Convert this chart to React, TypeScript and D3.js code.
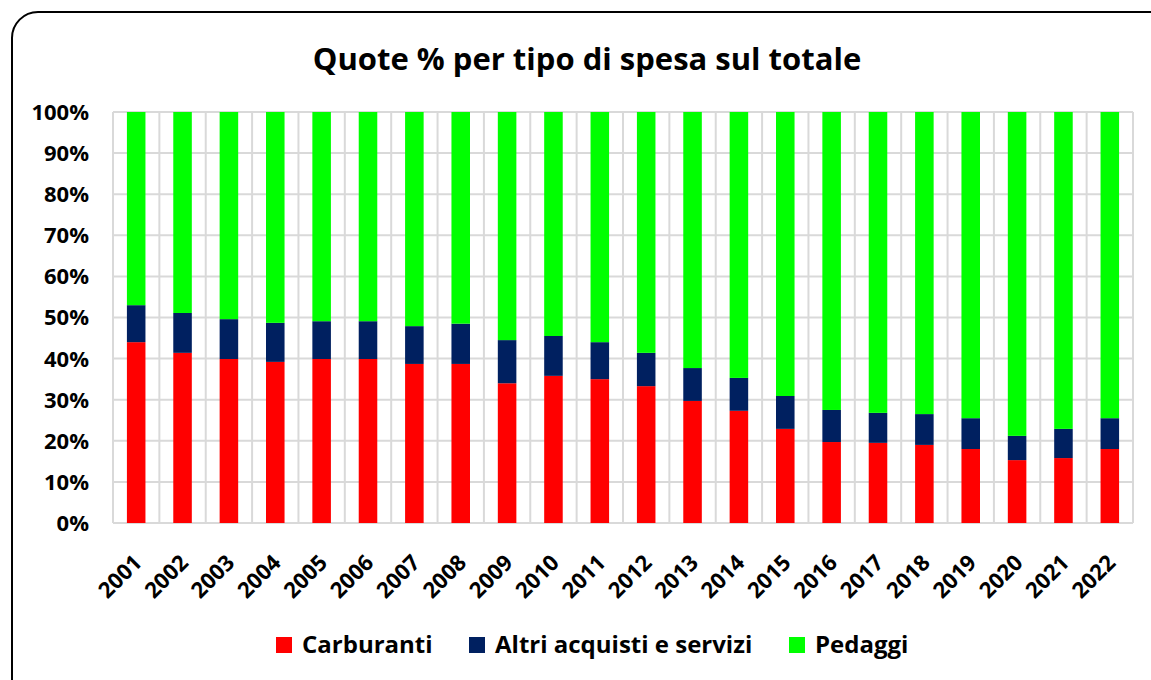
import React from 'react';
import * as d3 from 'd3';

const anni = ['2001', '2002', '2003', '2004', '2005', '2006', '2007', '2008', '2009', '2010', '2011',
  '2012', '2013', '2014', '2015', '2016', '2017', '2018', '2019', '2020', '2021', '2022'];

// quote %
const carburanti = [44.0, 41.4, 39.9, 39.2, 39.9, 39.9, 38.7, 38.7, 34.0, 35.8, 35.0,
  33.3, 29.7, 27.3, 22.9, 19.7, 19.5, 19.0, 18.0, 15.3, 15.8, 18.0];
const altri = [9.0, 9.7, 9.7, 9.5, 9.2, 9.2, 9.2, 9.8, 10.5, 9.7, 9.0,
  8.1, 8.0, 8.0, 8.0, 7.8, 7.3, 7.5, 7.5, 5.9, 7.1, 7.5];
const pedaggi = carburanti.map((c, i) => +(100 - c - altri[i]).toFixed(1));

const serie = [
  { nome: 'Carburanti', valori: carburanti, colore: '#ff0000' },
  { nome: 'Altri acquisti e servizi', valori: altri, colore: '#002060' },
  { nome: 'Pedaggi', valori: pedaggi, colore: '#00ff00' },
];
const tickY = [0, 10, 20, 30, 40, 50, 60, 70, 80, 90, 100];

const W = 1151;
const H = 680;
const font = '"Open Sans", "Noto Sans", sans-serif';

export default function App() {
  const margin = { left: 113, right: 18, top: 112, bottom: 157 };
  const x = d3.scaleBand().domain(anni).range([margin.left, W - margin.right]).paddingInner(0).paddingOuter(0);
  const y = d3.scaleLinear().domain([0, 100]).range([H - margin.bottom, margin.top]);

  const rows = anni.map((a, i) => {
    const r: any = { anno: a };
    serie.forEach((s) => (r[s.nome] = s.valori[i]));
    return r;
  });
  const stack = d3.stack().keys(serie.map((s) => s.nome))(rows);
  const bw = x.bandwidth() * 0.4;

  const legendItems = [
    { x: 276, s: serie[0] },
    { x: 469, s: serie[1] },
    { x: 789, s: serie[2] },
  ];

  return (
    <svg width={W} height={H} style={{ position: 'fixed', left: 0, top: 0, background: '#fff' }}>
      <rect x={12} y={12} width={W + 20} height={H + 20} rx={26} ry={26} fill="#fff" stroke="#000" strokeWidth={2} />
      <text x={587} y={70} textAnchor="middle" fontFamily={font} fontWeight="bold" fontSize={31} fill="#000">
        Quote % per tipo di spesa sul totale
      </text>

      {/* griglia */}
      {tickY.map((t) => (
        <line key={'h' + t} x1={margin.left} x2={W - margin.right} y1={y(t)} y2={y(t)} stroke="#d9d9d9" strokeWidth={2} />
      ))}
      {anni.concat(['end']).map((a, i) => {
        const xx = margin.left + i * x.step();
        return <line key={'v' + i} x1={xx} x2={xx} y1={y(100)} y2={y(0)} stroke="#d9d9d9" strokeWidth={2} />;
      })}

      {stack.map((layer, li) => (
        <g key={layer.key} fill={serie[li].colore}>
          {layer.map((d, i) => (
            <rect key={i} x={(x(anni[i]) as number) + (x.bandwidth() - bw) / 2} width={bw}
              y={y(d[1])} height={y(d[0]) - y(d[1])} />
          ))}
        </g>
      ))}

      {tickY.map((t) => (
        <text key={'ty' + t} x={89} y={y(t)} dy="0.36em" textAnchor="end" fontFamily={font} fontWeight="bold" fontSize={22} fill="#000">
          {t + '%'}
        </text>
      ))}

      {anni.map((a) => {
        const cx = (x(a) as number) + x.bandwidth() / 2;
        return (
          <text key={a} transform={`translate(${cx + 7},${564}) rotate(-45)`} textAnchor="end"
            fontFamily={font} fontWeight="bold" fontSize={22} fill="#000">
            {a}
          </text>
        );
      })}

      {legendItems.map(({ x: lx, s }) => (
        <g key={s.nome}>
          <rect x={lx} y={637} width={16} height={16} fill={s.colore} />
          <text x={lx + 26} y={653} fontFamily={font} fontWeight="bold" fontSize={24} fill="#000">
            {s.nome}
          </text>
        </g>
      ))}
    </svg>
  );
}
